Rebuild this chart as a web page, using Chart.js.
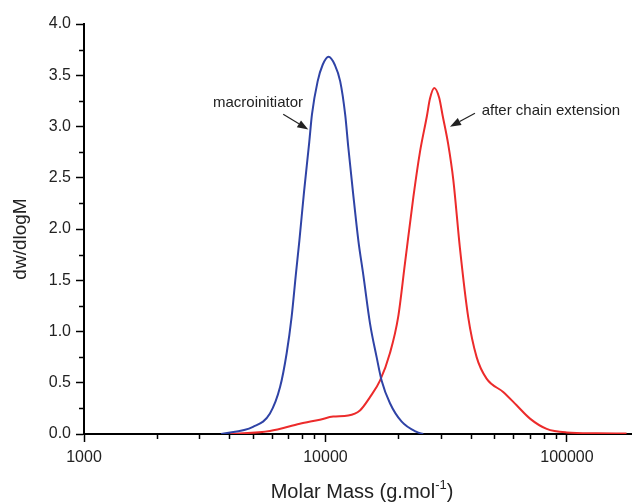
<!DOCTYPE html>
<html>
<head>
<meta charset="utf-8">
<script src="https://cdn.jsdelivr.net/npm/chart.js@4.4.1/dist/chart.umd.min.js"></script>
<style>
  html, body { margin: 0; padding: 0; background: #fff; }
  #wrap { width: 632px; height: 502px; }
</style>
</head>
<body>
<div id="wrap"><canvas id="gpcChart" width="632" height="502"></canvas></div>
<script>
// GPC traces (molar mass in g/mol, dw/dlogM)
const blueMass = [3700, 5010, 5890, 6490, 6910, 7240, 7550, 7800, 8150, 8570, 8790, 9280, 9730, 10300, 10940, 11510, 12070, 12430, 13000, 13680, 14350, 15290, 16290, 17090, 18500, 20690, 23840, 25400];
const blueValue = [0, 0.07, 0.2, 0.46, 0.79, 1.14, 1.57, 1.89, 2.36, 2.85, 3.115, 3.44, 3.60, 3.68, 3.60, 3.44, 3.115, 2.8, 2.36, 1.89, 1.55, 1.08, 0.75, 0.52, 0.30, 0.12, 0.02, 0];

const redMass = [4030, 5890, 7830, 9480, 10770, 12420, 13890, 15290, 16820, 18500, 20000, 21330, 23120, 24620, 26300, 27080, 28220, 29580, 30550, 32220, 33840, 36060, 39010, 42270, 46480, 54450, 61900, 70310, 82430, 99770, 132800, 176600];
const redValue = [0, 0.03, 0.10, 0.14, 0.17, 0.18, 0.23, 0.36, 0.52, 0.79, 1.14, 1.66, 2.31, 2.75, 3.1, 3.27, 3.376, 3.28, 3.11, 2.83, 2.48, 1.81, 1.14, 0.75, 0.54, 0.41, 0.28, 0.15, 0.05, 0.015, 0.007, 0.005];

const xTicks = [1000, 2000, 3000, 4000, 5000, 6000, 7000, 8000, 9000,
                10000, 20000, 30000, 40000, 50000, 60000, 70000, 80000, 90000, 100000];
const xMajor = [1000, 10000, 100000];

// labels placed in data coordinates: [text, mass, value, align]
const notes = [
    ["macroinitiator", 5254, 3.195, "center"],
    ["after chain extension", 44360, 3.112, "left"],
];
// arrows: [fromMass, fromValue, toMass, toValue]
const arrows = [
    [6683, 3.12, 8490, 2.97],
    [41600, 3.129, 32780, 2.998],
];

const font = "'Liberation Sans', Arial, Helvetica, sans-serif";

const extras = {
    id: "extras",
    afterDraw(chart) {
        const { ctx, chartArea, scales: { x, y } } = chart;
        ctx.save();

        // minor tick marks
        ctx.strokeStyle = "#000";
        ctx.lineWidth = 1.5;
        ctx.beginPath();
        x.ticks.forEach(t => {
            if (xMajor.includes(t.value)) return;
            const px = Math.round(x.getPixelForValue(t.value)) + 0.5;
            ctx.moveTo(px, chartArea.bottom);
            ctx.lineTo(px, chartArea.bottom + 5);
        });
        y.ticks.forEach(t => {
            if ((t.value * 2) % 1 === 0) return;
            const py = Math.round(y.getPixelForValue(t.value)) + 0.5;
            ctx.moveTo(chartArea.left, py);
            ctx.lineTo(chartArea.left - 5, py);
        });
        ctx.stroke();

        // axis titles
        ctx.fillStyle = "#222";
        ctx.save();
        ctx.translate(21, 239);
        ctx.rotate(-Math.PI / 2);
        ctx.font = "19px " + font;
        ctx.textAlign = "center";
        ctx.textBaseline = "middle";
        ctx.fillText("dw/dlogM", 0, 0);
        ctx.restore();

        const main = "Molar Mass (g.mol";
        const sup = "-1";
        const tail = ")";
        ctx.textBaseline = "alphabetic";
        ctx.font = "20px " + font;
        const w1 = ctx.measureText(main).width;
        const w3 = ctx.measureText(tail).width;
        ctx.font = "13px " + font;
        const w2 = ctx.measureText(sup).width;
        let sx = 362 - (w1 + w2 + w3) / 2;
        const base = 498;
        ctx.textAlign = "left";
        ctx.font = "20px " + font;
        ctx.fillText(main, sx, base);
        ctx.font = "13px " + font;
        ctx.fillText(sup, sx + w1, base - 9);
        ctx.font = "20px " + font;
        ctx.fillText(tail, sx + w1 + w2, base);

        // annotations
        ctx.font = "15px " + font;
        notes.forEach(([text, m, v, align]) => {
            ctx.textAlign = align;
            ctx.fillText(text, x.getPixelForValue(m), y.getPixelForValue(v));
        });
        ctx.strokeStyle = "#222";
        ctx.fillStyle = "#222";
        ctx.lineWidth = 1.2;
        arrows.forEach(([m1, v1, m2, v2]) => {
            const x1 = x.getPixelForValue(m1), y1 = y.getPixelForValue(v1);
            const x2 = x.getPixelForValue(m2), y2 = y.getPixelForValue(v2);
            const ang = Math.atan2(y2 - y1, x2 - x1);
            const hl = 11, hw = 4;
            ctx.beginPath();
            ctx.moveTo(x1, y1);
            ctx.lineTo(x2 - hl * Math.cos(ang), y2 - hl * Math.sin(ang));
            ctx.stroke();
            ctx.beginPath();
            ctx.moveTo(x2, y2);
            ctx.lineTo(x2 - hl * Math.cos(ang) + hw * Math.sin(ang), y2 - hl * Math.sin(ang) - hw * Math.cos(ang));
            ctx.lineTo(x2 - hl * Math.cos(ang) - hw * Math.sin(ang), y2 - hl * Math.sin(ang) + hw * Math.cos(ang));
            ctx.closePath();
            ctx.fill();
        });
        ctx.restore();
    },
};

const toPoints = (xs, ys) => xs.map((m, i) => ({ x: m, y: ys[i] }));

new Chart(document.getElementById("gpcChart").getContext("2d"), {
    type: "line",
    data: {
        datasets: [
            {
                label: "macroinitiator",
                data: toPoints(blueMass, blueValue),
                borderColor: "#2f43a6",
                borderWidth: 2,
                pointRadius: 0,
                cubicInterpolationMode: "monotone",
            },
            {
                label: "after chain extension",
                data: toPoints(redMass, redValue),
                borderColor: "#ec2b2b",
                borderWidth: 2,
                pointRadius: 0,
                cubicInterpolationMode: "monotone",
            },
        ],
    },
    options: {
        responsive: false,
        animation: false,
        layout: { padding: { top: 24, right: 0, left: 0, bottom: 0 } },
        plugins: {
            legend: { display: false },
            tooltip: { enabled: false },
        },
        scales: {
            x: {
                type: "logarithmic",
                min: 1000,
                max: 186000,
                afterBuildTicks: scale => {
                    scale.ticks = xTicks.map(v => ({ value: v, major: xMajor.includes(v) }));
                },
                afterFit: scale => { scale.height = 68; },
                border: { display: true, color: "#000", width: 2 },
                grid: {
                    drawOnChartArea: false,
                    drawTicks: true,
                    tickLength: 8,
                    tickWidth: 1.5,
                    tickColor: c => (c.tick && xMajor.includes(c.tick.value) ? "#000" : "rgba(0,0,0,0)"),
                },
                ticks: {
                    autoSkip: false,
                    maxRotation: 0,
                    padding: 6,
                    color: "#222",
                    font: { family: font, size: 16 },
                    callback: v => (xMajor.includes(v) ? String(v) : ""),
                },
            },
            y: {
                min: 0,
                max: 4,
                afterFit: scale => { scale.width = 84; },
                border: { display: true, color: "#000", width: 2 },
                grid: {
                    drawOnChartArea: false,
                    drawTicks: true,
                    tickLength: 8,
                    tickWidth: 1.5,
                    tickColor: c => (c.tick && (c.tick.value * 2) % 1 === 0 ? "#000" : "rgba(0,0,0,0)"),
                },
                ticks: {
                    stepSize: 0.25,
                    autoSkip: false,
                    padding: 5,
                    color: "#222",
                    font: { family: font, size: 16 },
                    callback: v => ((v * 2) % 1 === 0 ? v.toFixed(1) : ""),
                },
            },
        },
    },
    plugins: [extras],
});
</script>
</body>
</html>
